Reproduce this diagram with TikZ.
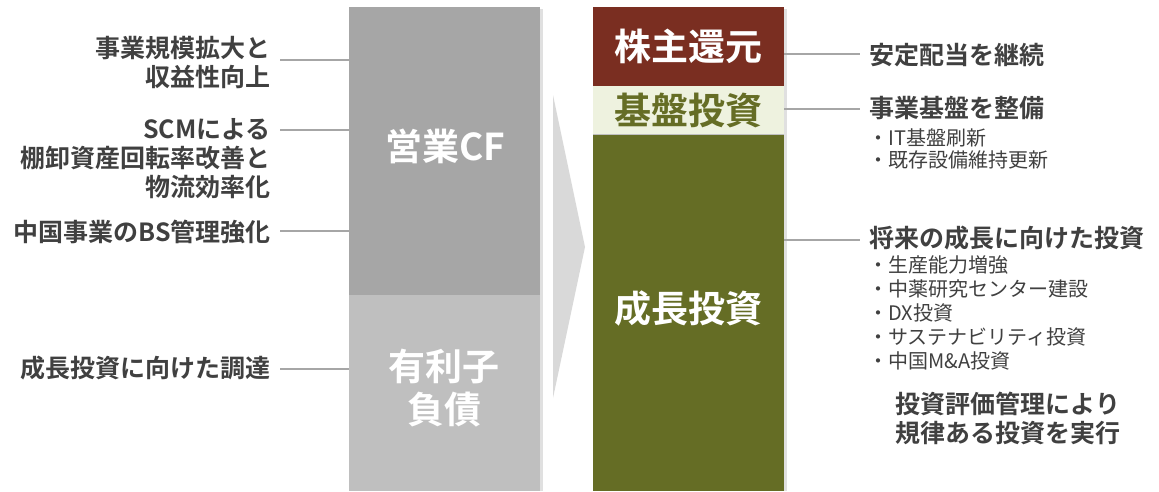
\documentclass[tikz,border=0pt]{standalone}
\usepackage{fontspec}
\setmainfont{Noto Sans CJK JP}[BoldFont={Noto Sans CJK JP Bold}]
\definecolor{txt}{HTML}{404040}
\definecolor{cfgray}{HTML}{A6A6A6}
\definecolor{debtgray}{HTML}{BFBFBF}
\definecolor{chev}{HTML}{D9D9D9}
\definecolor{brown}{HTML}{7A2E21}
\definecolor{pale}{HTML}{EEF2DF}
\definecolor{olive}{HTML}{656D25}
\definecolor{conn}{HTML}{A6A6A6}
\begin{document}
\begin{tikzpicture}[x=1pt,y=-1pt,
  blk/.style={rectangle,inner sep=0pt,anchor=north west},
  big/.style={font=\fontsize{37}{43}\selectfont\bfseries,inner sep=0pt,align=center},
  lab/.style={font=\fontsize{25}{29}\selectfont\bfseries,text=txt,inner sep=0pt},
  bul/.style={font=\fontsize{20}{24}\selectfont,text=txt,inner sep=0pt,anchor=west},
  link/.style={draw=conn,line width=1.2pt}]
\useasboundingbox (0,0) rectangle (1159,491);
% shadows
\fill[black,opacity=0.12] (351,9) rectangle (543,491);
\fill[black,opacity=0.12] (595,9) rectangle (787,491);
% left column
\node[blk,fill=cfgray,minimum width=191pt,minimum height=288pt] (cf) at (349,7) {};
\node[blk,fill=debtgray,minimum width=191pt,minimum height=196pt] (debt) at (349,295) {};
\node[big,text=white] (cft) at (445,146) {営業CF};
\node[big,text=white] (debtt) at (444,388) {有利子\\負債};
% chevron
\fill[chev] (553,95) -- (585,247) -- (553,398) -- cycle;
% right column
\node[blk,fill=brown,minimum width=191pt,minimum height=79pt] (ret) at (593,7) {};
\node[blk,fill=pale,minimum width=191pt,minimum height=48pt] (base) at (593,86) {};
\node[blk,fill=olive,minimum width=191pt,minimum height=357pt] (grow) at (593,134) {};
\draw[black!25,line width=0.8pt] (grow.north west) -- (grow.north east);
\node[big,text=white] (rett) at (688,46) {株主還元};
\node[big,text=olive] (baset) at (688,110) {基盤投資};
\node[big,text=white] (growt) at (688,308) {成長投資};
% left labels
\node[lab,anchor=east,align=right] (l1) at (271,62) {事業規模拡大と\\収益性向上};
\node[lab,anchor=north east,align=right] (l2) at (271,118) {SCMによる\\棚卸資産回転率改善と\\物流効率化};
\node[lab,anchor=east] (l3) at (271,232) {中国事業のBS管理強化};
\node[lab,anchor=east] (l4) at (271,368) {成長投資に向けた調達};
\coordinate (c1) at (280,60);
\coordinate (c2) at (280,130);
\coordinate (c3) at (280,231);
\coordinate (c4) at (280,369);
\draw[link] (c1) -- (c1 -| cf.west);
\draw[link] (c2) -- (c2 -| cf.west);
\draw[link] (c3) -- (c3 -| cf.west);
\draw[link] (c4) -- (c4 -| debt.west);
% right labels
\node[lab,anchor=west] (r1) at (869,55) {安定配当を継続};
\node[lab,anchor=west] (r2) at (869,108) {事業基盤を整備};
\node[bul] (b1) at (868,138) {・IT基盤刷新};
\node[bul] (b2) at (868,160) {・既存設備維持更新};
\node[lab,anchor=west] (r3) at (869,238) {将来の成長に向けた投資};
\node[bul] (g1) at (868,265) {・生産能力増強};
\node[bul] (g2) at (868,289) {・中薬研究センター建設};
\node[bul] (g3) at (868,313) {・DX投資};
\node[bul] (g4) at (868,337) {・サステナビリティ投資};
\node[bul] (g5) at (868,361) {・中国M\&A投資};
\node[lab,align=center] (sum) at (1008,418) {投資評価管理により\\規律ある投資を実行};
\coordinate (d1) at (860,54);
\coordinate (d2) at (860,109);
\coordinate (d3) at (860,240);
\draw[link] (ret.east |- d1) -- (d1);
\draw[link] (base.east |- d2) -- (d2);
\draw[link] (grow.east |- d3) -- (d3);
\end{tikzpicture}
\end{document}
